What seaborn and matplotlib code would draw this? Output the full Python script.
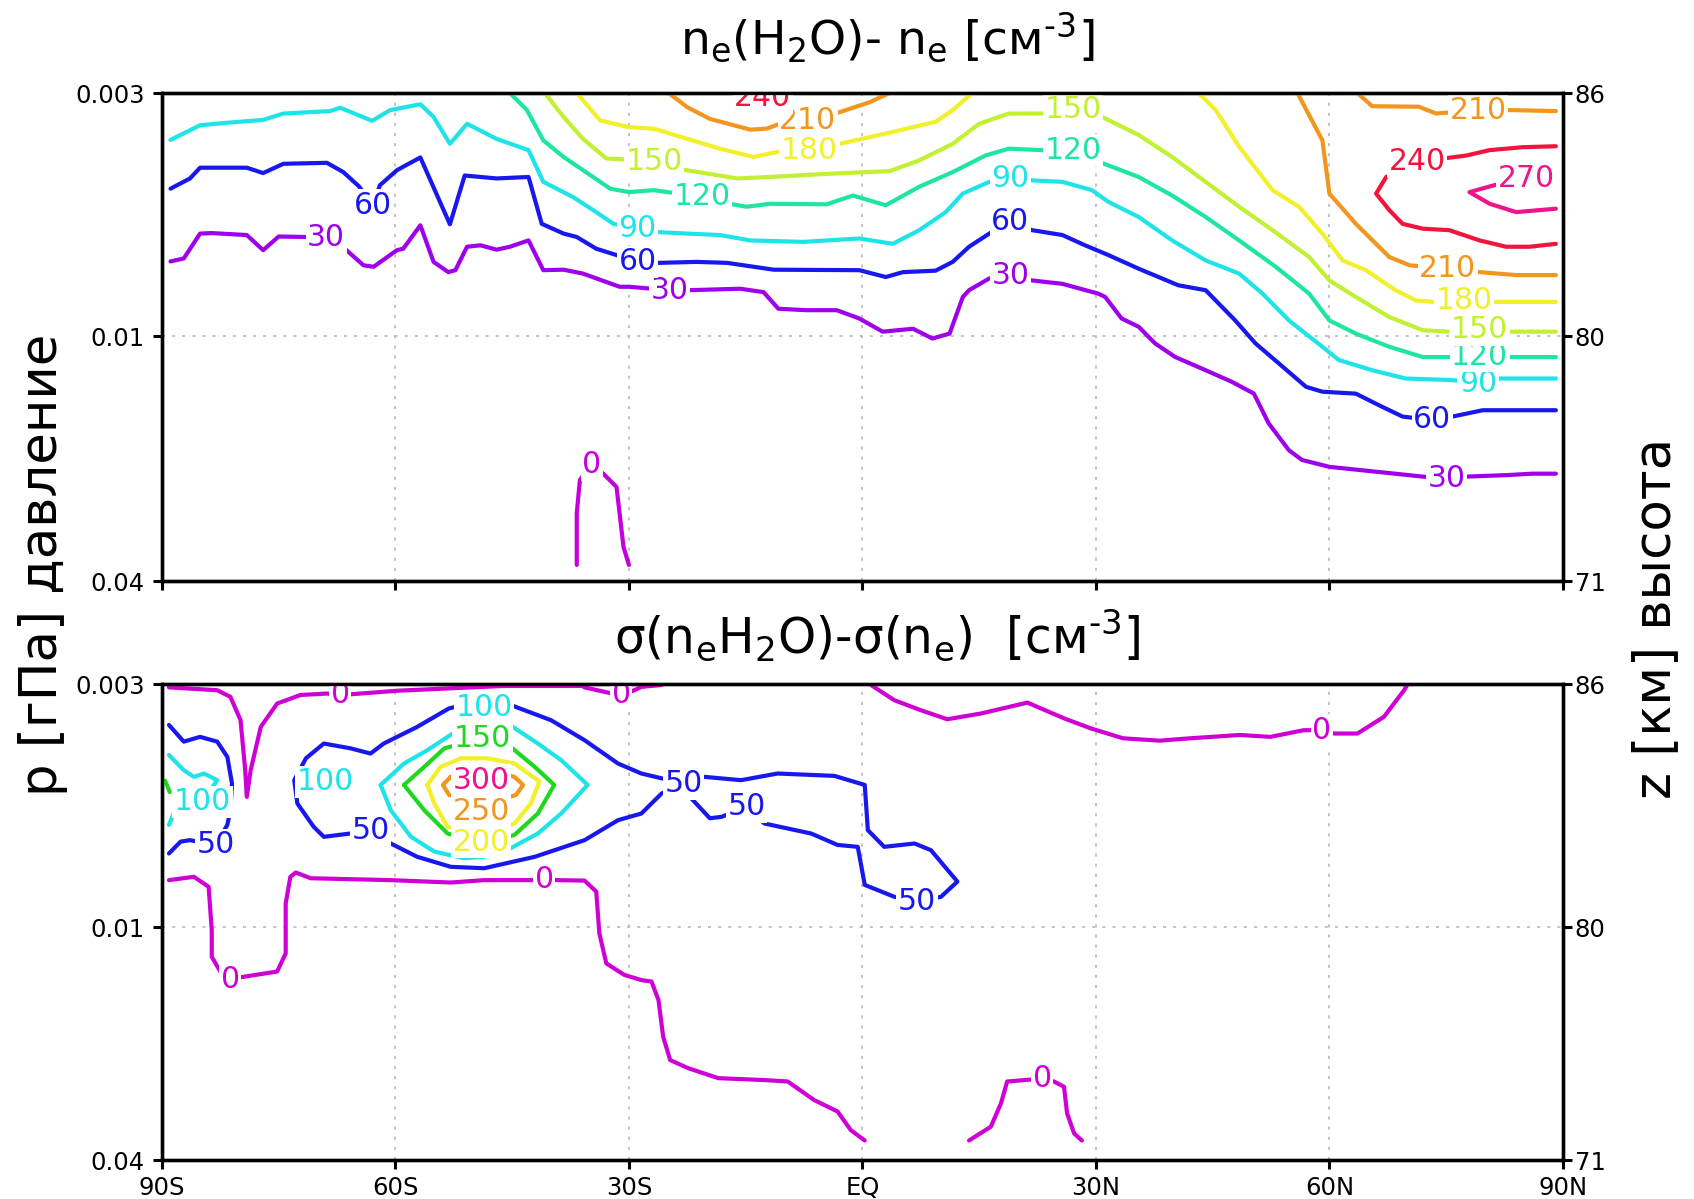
import matplotlib
matplotlib.use("Agg")
import seaborn as sns
import matplotlib.pyplot as plt

sns.set_theme(style="white")
plt.rcParams['font.family'] = ['DejaVu Sans']
plt.rcParams['mathtext.fontset'] = 'dejavusans'

# ---------------------------------------------------------------------------
# Axes: latitude (deg) and normalised model level (0 = 0.04 hPa, 1 = 0.003 hPa)
# ---------------------------------------------------------------------------
LAT_TICKS = [-90, -60, -30, 0, 30, 60, 90]
LAT_LABELS = ['90S', '60S', '30S', 'EQ', '30N', '60N', '90N']
P_LABELS = ['0.04', '0.01', '0.003']
Z_LABELS = ['71', '80', '86']
LEV_MID_TOP = 0.502   # level of 0.01 hPa / 80 km, upper panel
LEV_MID_BOT = 0.489   # level of 0.01 hPa / 80 km, lower panel

# ---------------------------------------------------------------------------
# Upper panel: n_e(H2O) - n_e, isolines (lat, lev)
# ---------------------------------------------------------------------------
top_c0_lat = [-36.7, -36.7, -36.3, -34.8, -33.3, -31.6, -31.2, -30.7, -30.0]
top_c0_lev = [0.033, 0.139, 0.207, 0.238, 0.220, 0.193, 0.139, 0.070, 0.033]

top_c30_lat = [-88.9, -87.2, -85.1, -83.6, -79.1, -77.0, -75.0, -71.4, -68.9, -66.5,
               -64.1, -62.8, -59.8, -59.0, -56.8, -55.1, -53.2, -52.3, -50.8, -49.1,
               -47.0, -45.3, -42.9, -41.0, -38.4, -35.9, -31.2, -30.0, -24.8, -22.3,
               -15.7, -12.7, -10.8, -7.2, -3.3, -0.4, 2.6, 6.5, 9.0, 11.2,
               12.9, 13.7, 16.3, 19.0, 21.8, 25.7, 30.3, 31.2, 33.3, 35.5,
               37.6, 40.2, 44.1, 47.5, 50.3, 52.2, 54.8, 56.5, 60.0, 66.0,
               72.0, 75.1, 77.6, 82.7, 86.1, 89.1]
top_c30_lev = [0.655, 0.661, 0.712, 0.713, 0.709, 0.678, 0.706, 0.705, 0.705, 0.681,
               0.647, 0.644, 0.678, 0.681, 0.729, 0.654, 0.633, 0.637, 0.685, 0.688,
               0.679, 0.685, 0.698, 0.637, 0.638, 0.630, 0.603, 0.603, 0.596, 0.596,
               0.599, 0.592, 0.558, 0.555, 0.555, 0.538, 0.511, 0.517, 0.497, 0.507,
               0.582, 0.596, 0.620, 0.627, 0.616, 0.609, 0.589, 0.582, 0.538, 0.521,
               0.487, 0.459, 0.432, 0.408, 0.384, 0.323, 0.268, 0.248, 0.234, 0.224,
               0.214, 0.210, 0.214, 0.217, 0.220, 0.220]

top_c60_lat = [-88.9, -86.4, -85.1, -79.1, -77.0, -74.4, -68.8, -66.7, -64.7, -62.9,
               -62.0, -59.8, -56.8, -53.0, -51.1, -47.0, -42.9, -41.2, -38.4, -36.7,
               -34.2, -31.6, -28.9, -26.2, -21.3, -17.4, -11.4, -0.4, 3.0, 5.2,
               9.4, 11.6, 13.7, 16.3, 19.0, 21.8, 25.7, 28.6, 31.6, 35.5,
               40.6, 44.1, 47.9, 50.5, 53.5, 57.0, 59.1, 63.4, 66.4, 69.4,
               73.2, 75.8, 79.7, 89.1]
top_c60_lev = [0.804, 0.825, 0.847, 0.847, 0.836, 0.855, 0.857, 0.838, 0.809, 0.770,
               0.811, 0.842, 0.868, 0.731, 0.831, 0.825, 0.828, 0.732, 0.712, 0.705,
               0.681, 0.668, 0.654, 0.652, 0.654, 0.652, 0.638, 0.637, 0.623, 0.633,
               0.636, 0.654, 0.685, 0.712, 0.736, 0.719, 0.709, 0.688, 0.668, 0.640,
               0.606, 0.596, 0.534, 0.487, 0.446, 0.398, 0.388, 0.384, 0.360, 0.337,
               0.330, 0.337, 0.350, 0.350]

top_c90_lat = [-88.9, -85.1, -81.7, -77.0, -74.4, -68.4, -67.1, -63.0, -60.7, -56.8,
               -55.1, -53.0, -50.8, -47.0, -42.9, -41.0, -37.2, -34.2, -32.0, -28.9,
               -26.2, -22.5, -18.3, -14.4, -7.6, -0.4, 3.9, 7.3, 10.7, 12.9,
               16.3, 19.0, 21.8, 25.7, 29.5, 31.6, 35.5, 39.8, 44.1, 48.4,
               51.4, 54.8, 59.1, 61.2, 65.5, 69.8, 75.4, 79.1, 81.8, 89.1]
top_c90_lev = [0.904, 0.934, 0.939, 0.945, 0.958, 0.963, 0.970, 0.943, 0.965, 0.977,
               0.951, 0.896, 0.937, 0.906, 0.883, 0.818, 0.787, 0.756, 0.732, 0.722,
               0.715, 0.712, 0.709, 0.698, 0.695, 0.702, 0.691, 0.719, 0.756, 0.794,
               0.818, 0.825, 0.821, 0.818, 0.801, 0.777, 0.746, 0.698, 0.657, 0.630,
               0.589, 0.534, 0.480, 0.453, 0.432, 0.415, 0.412, 0.408, 0.415, 0.415]

top_c120_lat = [-45.3, -43.1, -41.0, -38.4, -35.9, -32.4, -30.0, -26.8, -20.6, -17.0,
                -14.9, -11.9, -4.6, -1.2, 3.0, 7.3, 11.6, 15.8, 18.8, 23.1,
                27.1, 29.9, 35.5, 39.8, 44.1, 48.4, 53.1, 57.4, 60.0, 63.4,
                67.7, 72.0, 75.4, 79.3, 83.1, 89.1]
top_c120_lev = [1.000, 0.965, 0.903, 0.869, 0.842, 0.804, 0.797, 0.801, 0.787, 0.773,
                0.767, 0.773, 0.772, 0.790, 0.770, 0.808, 0.838, 0.872, 0.886, 0.883,
                0.883, 0.862, 0.828, 0.790, 0.746, 0.698, 0.644, 0.589, 0.534, 0.507,
                0.480, 0.459, 0.459, 0.461, 0.459, 0.459]

top_c150_lat = [-40.8, -38.4, -35.9, -32.9, -30.7, -26.8, -23.0, -16.1, -11.9, -3.8,
                3.5, 7.3, 11.6, 15.0, 18.8, 23.1, 27.1, 30.3, 35.5, 39.8,
                44.1, 48.4, 52.7, 57.4, 60.0, 63.4, 67.7, 72.0, 75.4, 79.3,
                83.1, 89.1]
top_c150_lev = [1.000, 0.951, 0.906, 0.866, 0.864, 0.859, 0.843, 0.825, 0.828, 0.835,
                0.840, 0.862, 0.896, 0.937, 0.958, 0.958, 0.966, 0.955, 0.914, 0.869,
                0.818, 0.767, 0.719, 0.664, 0.616, 0.582, 0.541, 0.514, 0.511, 0.515,
                0.511, 0.511]

top_c180a_lat = [-36.7, -33.7, -30.0, -26.8, -22.5, -18.3, -14.0, -11.0, -6.8, -2.9,
                 3.0, 9.4, 11.6, 14.1]
top_c180a_lev = [1.000, 0.944, 0.930, 0.927, 0.906, 0.886, 0.869, 0.879, 0.883, 0.896,
                 0.917, 0.941, 0.965, 1.000]
top_c180b_lat = [43.2, 45.4, 48.4, 52.7, 56.1, 59.1, 61.7, 64.7, 68.5, 71.1,
                 73.3, 77.3, 81.0, 89.1]
top_c180b_lev = [1.000, 0.965, 0.890, 0.801, 0.767, 0.712, 0.657, 0.637, 0.596, 0.575,
                 0.572, 0.575, 0.572, 0.572]

top_c210a_lat = [-24.9, -22.5, -19.6, -14.4, -12.3, -10.6, -7.0, -2.9, 0.9, 3.5]
top_c210a_lev = [1.000, 0.971, 0.947, 0.925, 0.927, 0.937, 0.944, 0.961, 0.981, 1.000]
top_c210b_lat = [63.6, 65.5, 71.5, 73.7, 79.1, 83.6, 89.1]
top_c210b_lev = [1.000, 0.973, 0.972, 0.958, 0.965, 0.965, 0.963]
top_c210c_lat = [55.9, 59.1, 60.0, 63.4, 67.7, 70.3, 75.2, 79.3, 84.0, 89.1]
top_c210c_lev = [1.000, 0.903, 0.794, 0.732, 0.664, 0.647, 0.640, 0.633, 0.627, 0.627]

top_c240_lat = [89.1, 84.8, 80.6, 77.6, 71.3, 67.3, 66.0, 67.7, 69.4, 72.0,
                75.4, 79.3, 82.7, 85.7, 89.1]
top_c240_lev = [0.891, 0.889, 0.883, 0.872, 0.859, 0.828, 0.794, 0.760, 0.732, 0.722,
                0.719, 0.698, 0.685, 0.685, 0.691]

top_c270_lat = [85.3, 81.6, 78.0, 80.6, 84.0, 89.1]
top_c270_lev = [0.825, 0.813, 0.797, 0.773, 0.756, 0.763]

# isoline labels: value, latitude, level
top_lbl_val = [30, 30, 30, 30, 60, 60, 60, 60, 90, 90, 90, 120, 120, 120,
               150, 150, 150, 180, 180, 210, 210, 210, 240, 240, 270, 0]
top_lbl_lat = [-68.9, -24.8, 19.0, 75.1, -62.9, -28.9, 19.0, 73.2, -28.9, 19.0, 79.1,
               -20.6, 27.1, 79.3, -26.8, 27.1, 79.3, -6.8, 77.3, -7.0, 79.1, 75.2,
               -12.8, 71.3, 85.3, -34.8]
top_lbl_lev = [0.705, 0.596, 0.627, 0.210, 0.770, 0.654, 0.736, 0.330, 0.722, 0.825,
               0.405, 0.787, 0.883, 0.461, 0.859, 0.966, 0.515, 0.883, 0.575, 0.944,
               0.965, 0.640, 0.990, 0.859, 0.825, 0.238]

# ---------------------------------------------------------------------------
# Lower panel: sigma(n_e H2O) - sigma(n_e), isolines (lat, lev)
# ---------------------------------------------------------------------------
bot_c0a_lat = [-89.1, -82.9, -81.2, -79.9, -79.3, -79.1, -78.6, -77.3, -75.2, -72.2,
               -68.8, -67.1, -65.3, -59.7, -52.9, -46.0, -36.0, -35.7, -32.7, -31.0,
               -29.3, -28.4, -25.8]
bot_c0a_lev = [0.993, 0.987, 0.973, 0.924, 0.819, 0.763, 0.819, 0.910, 0.959, 0.977,
               0.980, 0.977, 0.979, 0.986, 0.991, 0.996, 0.996, 0.993, 0.982, 0.977,
               0.987, 0.994, 0.998]
bot_c0b_lat = [1.1, 4.1, 7.5, 10.9, 15.2, 21.2, 25.9, 29.3, 33.5, 38.2,
               42.1, 48.5, 52.4, 56.7, 59.0, 60.6, 63.6, 67.0, 69.6, 70.0]
bot_c0b_lev = [0.998, 0.966, 0.945, 0.926, 0.938, 0.961, 0.928, 0.907, 0.886, 0.881,
               0.886, 0.893, 0.889, 0.903, 0.903, 0.896, 0.896, 0.931, 0.987, 0.998]
bot_c0c_lat = [-89.1, -85.9, -84.0, -83.6, -83.6, -82.5, -81.2, -79.5, -75.2, -74.1,
               -74.1, -73.5, -72.8, -70.9, -60.6, -52.9, -48.6, -42.6, -40.9, -39.1,
               -35.7, -34.2, -33.8, -32.9, -30.6, -28.4, -27.1, -26.2, -25.6, -24.7,
               -22.4, -18.5, -12.6, -9.6, -6.2, -3.2, -1.5, 0.3]
bot_c0c_lev = [0.588, 0.595, 0.574, 0.483, 0.427, 0.396, 0.380, 0.385, 0.396, 0.434,
               0.539, 0.595, 0.604, 0.592, 0.588, 0.583, 0.588, 0.588, 0.590, 0.588,
               0.587, 0.564, 0.476, 0.413, 0.389, 0.378, 0.375, 0.336, 0.259, 0.210,
               0.193, 0.172, 0.168, 0.165, 0.126, 0.102, 0.063, 0.041]
bot_c0d_lat = [13.7, 16.5, 17.8, 18.6, 21.6, 23.1, 24.6, 25.9, 26.3, 27.2, 28.2]
bot_c0d_lev = [0.041, 0.070, 0.119, 0.165, 0.169, 0.172, 0.165, 0.154, 0.098, 0.056, 0.041]

bot_c50a_lat = [-89.1, -87.2, -85.1, -82.9, -81.6, -81.0, -81.2, -81.6, -83.1, -86.4,
                -87.6, -89.1]
bot_c50a_lev = [0.914, 0.879, 0.889, 0.879, 0.847, 0.791, 0.735, 0.704, 0.662, 0.672,
                0.669, 0.644]
bot_c50b_lat = [-23.0, -28.4, -31.4, -35.7, -40.0, -45.2, -47.7, -50.3, -53.1, -57.2,
                -61.5, -63.2, -65.8, -69.2, -71.5, -73.0, -72.6, -70.5, -69.2, -65.8,
                -63.2, -60.6, -57.2, -52.9, -48.6, -42.1, -35.7, -31.4, -28.4, -25.8,
                -23.0]
bot_c50b_lev = [0.791, 0.812, 0.833, 0.882, 0.924, 0.956, 0.959, 0.959, 0.949, 0.910,
                0.875, 0.854, 0.865, 0.875, 0.844, 0.798, 0.749, 0.700, 0.679, 0.686,
                0.693, 0.665, 0.637, 0.616, 0.613, 0.637, 0.672, 0.714, 0.728, 0.770,
                0.791]
bot_c50c_lat = [-23.0, -20.3, -15.6, -10.9, -3.6, 0.3, 0.7, 2.8, 6.7, 8.8,
                12.2, 10.1, 7.0, 4.1, 0.3, -0.6, -3.2, -6.6, -12.6, -14.9,
                -18.1, -19.6, -22.0, -23.0]
bot_c50c_lev = [0.791, 0.805, 0.798, 0.812, 0.807, 0.788, 0.693, 0.658, 0.665, 0.651,
                0.585, 0.553, 0.543, 0.553, 0.578, 0.658, 0.662, 0.686, 0.707, 0.742,
                0.721, 0.718, 0.760, 0.791]

bot_c100a_lat = [-89.1, -87.2, -85.9, -84.6, -82.9, -84.8, -88.5, -89.1]
bot_c100a_lev = [0.851, 0.819, 0.805, 0.812, 0.798, 0.753, 0.728, 0.704]
bot_c100b_lat = [-61.9, -58.9, -55.9, -53.3, -48.6, -45.2, -41.7, -38.7, -35.3, -38.7,
                 -41.7, -45.2, -48.6, -51.2, -55.0, -58.0, -60.6, -61.9]
bot_c100b_lev = [0.788, 0.833, 0.861, 0.889, 0.938, 0.913, 0.875, 0.840, 0.788, 0.728,
                 0.686, 0.655, 0.637, 0.634, 0.648, 0.679, 0.735, 0.788]

bot_c150a_lat = [-89.6, -89.0]
bot_c150a_lev = [0.797, 0.773]
bot_c150b_lat = [-58.9, -56.3, -53.7, -48.8, -45.2, -42.1, -39.6, -41.7, -44.7, -48.6,
                 -53.3, -56.3, -58.9]
bot_c150b_lev = [0.788, 0.826, 0.865, 0.886, 0.868, 0.826, 0.788, 0.728, 0.683, 0.665,
                 0.686, 0.735, 0.788]

bot_c200_lat = [-55.9, -54.2, -51.6, -48.2, -44.7, -41.5, -42.6, -44.7, -49.0, -53.3,
                -55.0, -55.9]
bot_c200_lev = [0.788, 0.826, 0.844, 0.844, 0.833, 0.795, 0.749, 0.707, 0.683, 0.700,
                0.749, 0.788]

bot_c250_lat = [-52.9, -53.9, -53.1, -49.0, -44.5, -43.6, -44.7, -49.0, -52.9]
bot_c250_lev = [0.805, 0.788, 0.767, 0.745, 0.767, 0.788, 0.805, 0.820, 0.805]

bot_c300_lat = [-50.5, -47.5, -47.5, -50.5, -50.5]
bot_c300_lev = [0.790, 0.790, 0.806, 0.806, 0.790]

bot_lbl_val = [0, 0, 0, 0, 0, 0, 50, 50, 50, 50, 50, 100, 100, 100, 150, 200, 250, 300]
bot_lbl_lat = [-67.1, -31.0, 59.0, -81.2, -40.9, 23.1, -83.1, -63.2, -23.0, -14.9, 7.0,
               -84.8, -69.0, -48.6, -48.8, -49.0, -49.0, -49.0]
bot_lbl_lev = [0.977, 0.977, 0.903, 0.380, 0.590, 0.172, 0.662, 0.693, 0.791, 0.742,
               0.543, 0.753, 0.795, 0.950, 0.886, 0.668, 0.732, 0.798]

# ---------------------------------------------------------------------------
# Styling
# ---------------------------------------------------------------------------
TOP_COLORS = {0: '#C400DC', 30: '#9E00EC', 60: '#1818EE', 90: '#1EE4E8',
              120: '#1EE6A0', 150: '#C2F032', 180: '#F2F02A', 210: '#F2961E',
              240: '#F2143C', 270: '#F0148C'}
BOT_COLORS = {0: '#CF00D6', 50: '#1818EE', 100: '#1EE4E8', 150: '#1ED81E',
              200: '#F2F02A', 250: '#F2961E', 300: '#F0148C'}
LW = 3.0
GRID_COLOR = '#bdbdbd'
TICK_FS = 17.5
LABEL_FS = 21.5
TITLE_FS = 34
AXLABEL_FS = 37

top_paths = [
    (0, top_c0_lat, top_c0_lev), (30, top_c30_lat, top_c30_lev),
    (60, top_c60_lat, top_c60_lev), (90, top_c90_lat, top_c90_lev),
    (120, top_c120_lat, top_c120_lev), (150, top_c150_lat, top_c150_lev),
    (180, top_c180a_lat, top_c180a_lev), (180, top_c180b_lat, top_c180b_lev),
    (210, top_c210a_lat, top_c210a_lev), (210, top_c210b_lat, top_c210b_lev),
    (210, top_c210c_lat, top_c210c_lev), (240, top_c240_lat, top_c240_lev),
    (270, top_c270_lat, top_c270_lev),
]
bot_paths = [
    (0, bot_c0a_lat, bot_c0a_lev), (0, bot_c0b_lat, bot_c0b_lev),
    (0, bot_c0c_lat, bot_c0c_lev), (0, bot_c0d_lat, bot_c0d_lev),
    (50, bot_c50a_lat, bot_c50a_lev), (50, bot_c50b_lat, bot_c50b_lev),
    (50, bot_c50c_lat, bot_c50c_lev), (100, bot_c100a_lat, bot_c100a_lev),
    (100, bot_c100b_lat, bot_c100b_lev), (150, bot_c150a_lat, bot_c150a_lev),
    (150, bot_c150b_lat, bot_c150b_lev), (200, bot_c200_lat, bot_c200_lev),
    (250, bot_c250_lat, bot_c250_lev), (300, bot_c300_lat, bot_c300_lev),
]


def draw_isolines(ax, paths, colors):
    for val, lat, lev in paths:
        sns.lineplot(x=lat, y=lev, sort=False, estimator=None, color=colors[val],
                     linewidth=LW, ax=ax, legend=False, zorder=3)


def draw_labels(ax, vals, lats, levs, colors):
    for v, x, y in zip(vals, lats, levs):
        ax.text(x, y, str(v), color=colors[v], fontsize=LABEL_FS, ha='center',
                va='center', zorder=5, clip_on=True,
                bbox=dict(boxstyle='square,pad=0.05', fc='white', ec='none'))


def style_panel(ax, lev_mid, show_lat_labels):
    ax.set_xlim(-90, 90)
    ax.set_ylim(0, 1)
    ax.set_xlabel('')
    ax.set_ylabel('')
    for lat in LAT_TICKS[1:-1]:
        ax.axvline(lat, color=GRID_COLOR, lw=1.3, ls=(0, (1.7, 3.9)), zorder=1)
    ax.axhline(lev_mid, color=GRID_COLOR, lw=1.3, ls=(0, (1.7, 3.9)), zorder=1)
    ax.set_xticks(LAT_TICKS)
    ax.set_xticklabels(LAT_LABELS if show_lat_labels else [])
    ax.set_yticks([0, lev_mid, 1])
    ax.set_yticklabels(P_LABELS)
    ax.tick_params(axis='both', which='major', direction='out', length=6.5,
                   width=2.2, color='black', labelsize=TICK_FS, labelcolor='black')
    ax.tick_params(axis='y', pad=6)
    ax.tick_params(axis='x', pad=5, bottom=True)
    for sp in ax.spines.values():
        sp.set_color('black')
        sp.set_linewidth(2.4)
    twin = ax.twinx()
    twin.set_ylim(0, 1)
    twin.set_yticks([0, lev_mid, 1])
    twin.set_yticklabels(Z_LABELS)
    twin.tick_params(axis='y', direction='out', length=6.5, width=2.2, color='black',
                     labelsize=TICK_FS, labelcolor='black', pad=2, right=True)
    for sp in twin.spines.values():
        sp.set_color('black')
        sp.set_linewidth(2.4)
    twin.grid(False)


fig = plt.figure(figsize=(16.94, 11.99), dpi=100)
fig.patch.set_facecolor('white')
ax_top = fig.add_axes([0.0956, 0.5154, 0.8270, 0.4070])
ax_bot = fig.add_axes([0.0956, 0.0325, 0.8270, 0.3970])

draw_isolines(ax_top, top_paths, TOP_COLORS)
draw_labels(ax_top, top_lbl_val, top_lbl_lat, top_lbl_lev, TOP_COLORS)
style_panel(ax_top, LEV_MID_TOP, False)

draw_isolines(ax_bot, bot_paths, BOT_COLORS)
draw_labels(ax_bot, bot_lbl_val, bot_lbl_lat, bot_lbl_lev, BOT_COLORS)
style_panel(ax_bot, LEV_MID_BOT, True)

fig.text(0.524, 0.955,
         r'n$_\mathregular{e}$(H$_\mathregular{2}$O)- n$_\mathregular{e}$ [см$^{\text{-3}}$]',
         fontsize=TITLE_FS, ha='center', va='baseline', color='black')
fig.text(0.518, 0.4545,
         r'σ(n$_\mathregular{e}$H$_\mathregular{2}$O)-σ(n$_\mathregular{e}$)  [см$^{\text{-3}}$]',
         fontsize=TITLE_FS + 1, ha='center', va='baseline', color='black')
fig.text(0.0254, 0.529, 'p [гПа] давление', rotation=90, fontsize=AXLABEL_FS,
         ha='center', va='center', color='black')
fig.text(0.9775, 0.484, 'z [км] высота', rotation=90, fontsize=AXLABEL_FS,
         ha='center', va='center', color='black')

fig.savefig('out.png', dpi=100, facecolor='white')
